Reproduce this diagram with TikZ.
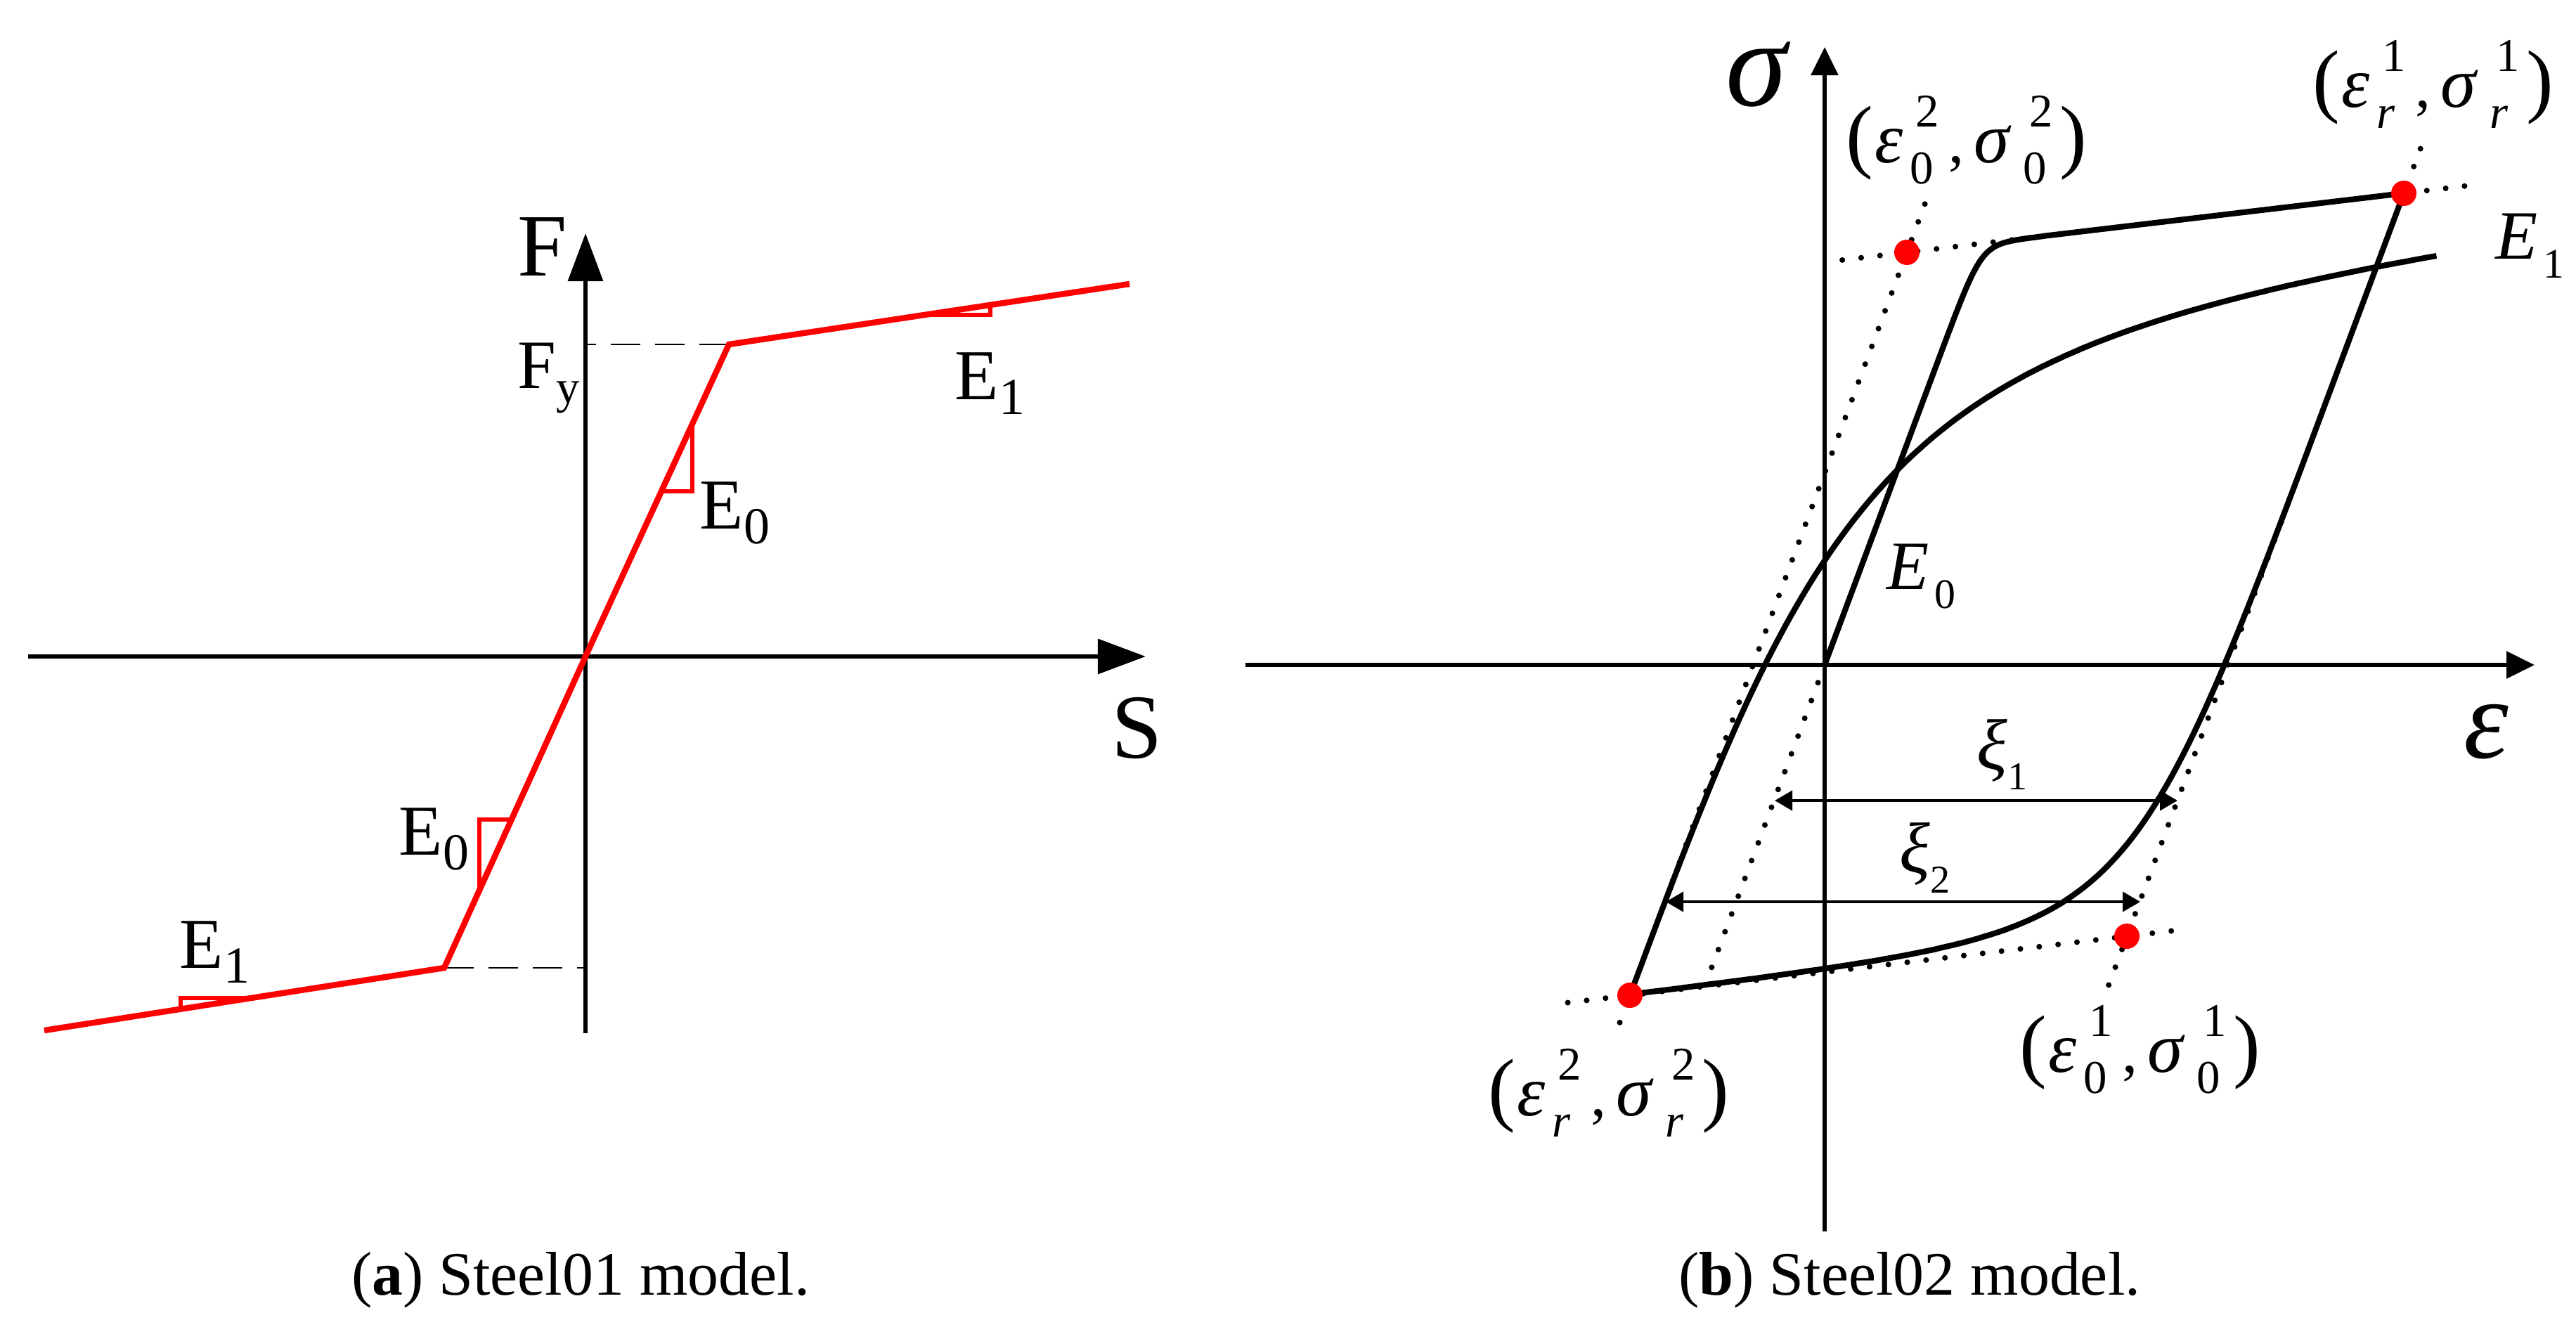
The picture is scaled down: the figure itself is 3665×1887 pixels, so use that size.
\documentclass[tikz,border=0pt]{standalone}
\usepackage{fontspec}
\setmainfont{Liberation Serif}
\usetikzlibrary{arrows.meta,calc}
\newcommand{\fs}[1]{\fontsize{#1}{#1}\selectfont}
\newcommand{\ptlab}[4]{%
 \makebox[0.41cm][l]{\fs{33}(}%
 \makebox[0.50cm][l]{\fs{29}\itshape ε}%
 \makebox[0.55cm][l]{\rlap{\kern0.08cm\raisebox{0.5cm}{\fs{19}#1}}\raisebox{-0.3cm}{\fs{19}#2}}%
 \makebox[0.36cm][l]{,}%
 \makebox[0.70cm][l]{\fs{29}\itshape σ}%
 \makebox[0.52cm][l]{\rlap{\kern0.09cm\raisebox{0.5cm}{\fs{19}#3}}\raisebox{-0.3cm}{\fs{19}#4}}%
 {\fs{33})}}
\begin{document}
\begin{tikzpicture}[x=0.01cm,y=-0.01cm,
  lab/.style={inner sep=0pt, anchor=base west},
  axisA/.style={line width=1.8pt, -{Triangle[length=0.68cm,width=0.49cm]}},
  axisB/.style={line width=1.7pt, -{Triangle[length=0.40cm,width=0.38cm]}},
  redline/.style={red, line width=2.4pt, line join=miter},
  slopetri/.style={red, line width=1.7pt},
  dashline/.style={line width=0.7pt, dash pattern=on 0.42cm off 0.21cm},
  dotline/.style={line width=2.3pt, line cap=round, dash pattern=on 0pt off 0.27cm},
  curve/.style={line width=2.3pt, line join=round},
  dimarrow/.style={line width=1.2pt, {Triangle[length=0.25cm,width=0.28cm]}-{Triangle[length=0.25cm,width=0.28cm]}},
  rdot/.style={fill=red, circle, inner sep=0pt, minimum size=0.36cm},
  declare function={mpf(\x,\r)=(\x/max(\x,1))/((1/max(\x,1))^\r+(\x/max(\x,1))^\r)^(1/\r);},
]
\fill[white] (0,0) rectangle (3665,1887);
\useasboundingbox (0,0) rectangle (3665,1887);

% ---------------- left panel ----------------
\coordinate (O1) at (833,934);
\coordinate (SxL) at (40,934);
\coordinate (SxR) at (1630,934);
\coordinate (FyB) at (833,1470);
\coordinate (FyT) at (833,332);
\coordinate (Ly) at (1037,490);
\coordinate (Lyn) at (632,1377);
\coordinate (Lend) at (1607,404);
\coordinate (Lstart) at (63,1466);
\coordinate (FyAx) at (833,490);
\coordinate (FynAx) at (833,1377);

\draw[axisA] (SxL) -- (SxR);
\draw[axisA] (FyB) -- (FyT);
\draw[dashline] (Ly) -- (FyAx);
\draw[dashline] (Lyn) -- (FynAx);
\draw[redline] (Lstart) -- (Lyn) -- (O1) -- (Ly) -- (Lend);
\draw[slopetri] (985,602) -- (985,699) -- (941,699);
\draw[slopetri] (728,1166) -- (682,1166) -- (682,1267);
\draw[slopetri] (1309,448) -- (1409,448) -- (1409,434);
\draw[slopetri] (357,1420) -- (257,1420) -- (257,1436);

\node[lab, font=\fs{36}] (Flab) at (736,392) {F};
\node[lab, font=\fs{28}] (Fylab) at (736,552) {F\raisebox{-0.21cm}{\fs{19}y}};
\node[lab, font=\fs{37}] (Slab) at (1581,1078) {S};
\node[lab, font=\fs{29}] (E0u) at (995,752) {E\raisebox{-0.21cm}{\fs{21}0}};
\node[lab, font=\fs{29}] (E1u) at (1358,568) {E\raisebox{-0.21cm}{\fs{21}1}};
\node[lab, font=\fs{29}] (E0l) at (567,1216) {E\raisebox{-0.21cm}{\fs{21}0}};
\node[lab, font=\fs{29}] (E1l) at (255,1377) {E\raisebox{-0.21cm}{\fs{21}1}};

% ---------------- right panel ----------------
\coordinate (O2) at (2596,946);
\coordinate (ExL) at (1772,946);
\coordinate (ExR) at (3606,946);
\coordinate (SyB) at (2596,1752);
\coordinate (SyT) at (2596,67);
\coordinate (r1) at (3420,275);
\coordinate (r2) at (2319,1416);
\coordinate (e01) at (3026,1332);
\coordinate (e02) at (2713,359);
\coordinate (Od) at (2431,1388);

\draw[axisB] (ExL) -- (ExR);
\draw[axisB] (SyB) -- (SyT);

\draw[dotline] ($(e02)!-0.13!(r1)$) -- ($(r1)!-0.13!(e02)$);
\draw[dotline] ($(r2)!-0.125!(e01)$) -- ($(e01)!-0.1!(r2)$);
\draw[dotline] ($(e02)!-0.065!(r2)$) -- ($(r2)!-0.06!(e02)$);
\draw[dotline] ($(r1)!-0.06!(e01)$) -- ($(e01)!-0.07!(r1)$);
\draw[dotline] (O2) -- (Od);

\draw[curve] (O2) -- plot[domain=0.02:3.687, samples=160, variable=\t]
  ({2596+223.5*\t},{946-599.7*(0.04429*\t+0.95571*mpf(\t,18))});
\draw[curve] (r1) -- plot[domain=0.02:2.794, samples=140, variable=\t]
  ({3420-394*\t},{275+1057*(0.04429*\t+0.95571*mpf(\t,5))});
\draw[curve] (r2) -- plot[domain=0.05:3.099, samples=140, variable=\t]
  ({2319+370.4*\t},{1416-993.6*(0.04429*\t+0.95571*mpf(\t,2.2))});

\coordinate (x1a) at (2525,1139);
\coordinate (x1b) at (3098,1139);
\coordinate (x2a) at (2370,1283);
\coordinate (x2b) at (3045,1283);
\draw[dimarrow] (x1a) -- (x1b);
\draw[dimarrow] (x2a) -- (x2b);

\node[rdot] (pr1) at (r1) {};
\node[rdot] (pr2) at (r2) {};
\node[rdot] (pe01) at (e01) {};
\node[rdot] (pe02) at (e02) {};

\node[lab, font=\fs{50}\itshape] (sig) at (2455,150) {σ};
\node[lab, font=\fs{46}\itshape] (eps) at (3505,1078) {ε};
\node[lab, font=\fs{28}] (E1r) at (3550,368) {\textit{E}\kern0.08cm\raisebox{-0.27cm}{\fs{17}1}};
\node[lab, font=\fs{28}] (E0r) at (2684,838) {\textit{E}\kern0.08cm\raisebox{-0.27cm}{\fs{17}0}};
\node[lab, font=\fs{29}] (xi1) at (2812,1094) {\textit{ξ}\raisebox{-0.29cm}{\fs{16}1}};
\node[lab, font=\fs{29}] (xi2) at (2702,1241) {\textit{ξ}\raisebox{-0.29cm}{\fs{16}2}};

\node[lab, font=\fs{25}] (lr2) at (2117,1587) {\ptlab{2}{\itshape r}{2}{\itshape r}};
\node[lab, font=\fs{25}] (l02) at (2626,231) {\ptlab{2}{0}{2}{0}};
\node[lab, font=\fs{25}] (lr1) at (3290,152) {\ptlab{1}{\itshape r}{1}{\itshape r}};
\node[lab, font=\fs{25}] (l01) at (2873,1525) {\ptlab{1}{0}{1}{0}};

% ---------------- captions ----------------
\node[font=\fs{25}, anchor=base, inner sep=0pt] (capa) at (826,1842) {(\textbf{a}) Steel01 model.};
\node[font=\fs{25}, anchor=base, inner sep=0pt] (capb) at (2717,1842) {(\textbf{b}) Steel02 model.};
\end{tikzpicture}
\end{document}
